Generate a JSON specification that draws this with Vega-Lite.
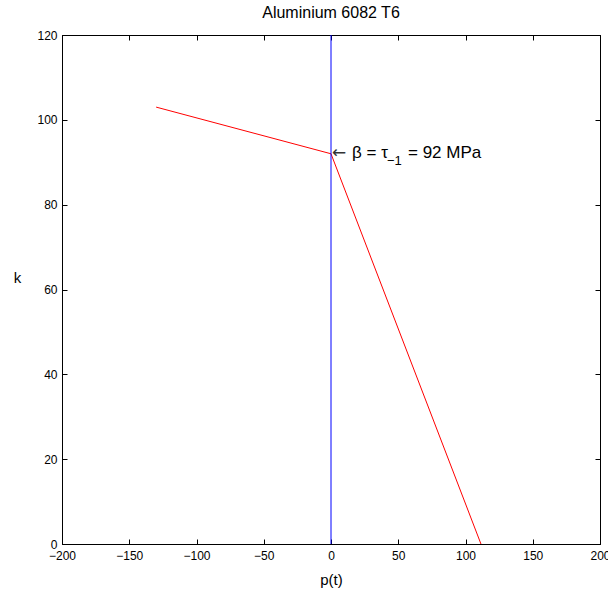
{
  "$schema": "https://vega.github.io/schema/vega-lite/v6.json",
  "autosize": {"type": "none"},
  "width": 538,
  "height": 509,
  "padding": {"left": 62, "top": 35, "right": 8, "bottom": 56},
  "background": "white",
  "title": {"text": "Aluminium 6082 T6", "fontSize": 16, "font": "Liberation Sans", "fontWeight": "normal", "color": "black", "offset": 8, "anchor": "middle"},
  "config": {
    "view": {"stroke": "black", "strokeWidth": 1},
    "font": "Liberation Sans",
    "axis": {"grid": false, "domainColor": "black", "tickColor": "black", "labelColor": "black", "titleColor": "black", "labelFont": "Liberation Sans", "titleFont": "Liberation Sans", "labelFontSize": 12, "titleFontSize": 15, "titleFontWeight": "normal", "domainWidth": 1, "tickWidth": 1, "tickSize": -5, "zindex": 1}
  },
  "resolve": {"axis": {"x": "independent", "y": "independent"}},
  "layer": [
    {
      "data": {"values": [
        {"p": -130, "k": 103},
        {"p": 0, "k": 92},
        {"p": 111.5, "k": 0}
      ]},
      "mark": {"type": "line", "color": "#ff0000", "strokeWidth": 1},
      "encoding": {
        "x": {"field": "p", "type": "quantitative", "scale": {"domain": [-200, 200], "nice": false, "zero": false},
          "axis": {"orient": "bottom", "values": [-200, -150, -100, -50, 0, 50, 100, 150, 200], "title": "p(t)", "labelPadding": 11, "titleY": 40, "titleBaseline": "alphabetic", "labelFlush": false, "labelOverlap": false}},
        "y": {"field": "k", "type": "quantitative", "scale": {"domain": [0, 120], "nice": false, "zero": false},
          "axis": {"orient": "left", "values": [0, 20, 40, 60, 80, 100, 120], "title": "k", "titleAngle": 0, "titleX": -45, "titleY": 250, "titleAlign": "center", "labelPadding": 10, "labelFlush": false, "labelOverlap": false}}
      }
    },
    {
      "data": {"values": [{"p": 0, "k0": 0, "k1": 120}]},
      "mark": {"type": "rule", "color": "#0000ff", "strokeWidth": 1},
      "encoding": {
        "x": {"field": "p", "type": "quantitative", "axis": {"orient": "top", "values": [-200, -150, -100, -50, 0, 50, 100, 150, 200], "labels": false, "title": null}},
        "y": {"field": "k0", "type": "quantitative", "axis": {"orient": "right", "values": [0, 20, 40, 60, 80, 100, 120], "labels": false, "title": null}},
        "y2": {"field": "k1"}
      }
    },
    {
      "data": {"values": [{"p": 0, "k": 92, "label": "←"}]},
      "mark": {"type": "text", "align": "left", "baseline": "alphabetic", "dx": 1, "dy": 4, "fontSize": 17, "font": "DejaVu Sans", "color": "#333333"},
      "encoding": {
        "x": {"field": "p", "type": "quantitative", "axis": null},
        "y": {"field": "k", "type": "quantitative", "axis": null},
        "text": {"field": "label"}
      }
    },
    {
      "data": {"values": [{"p": 0, "k": 92, "label": "β = τ"}]},
      "mark": {"type": "text", "align": "left", "baseline": "alphabetic", "dx": 21, "dy": 4, "fontSize": 17, "font": "Liberation Sans", "color": "black"},
      "encoding": {
        "x": {"field": "p", "type": "quantitative", "axis": null},
        "y": {"field": "k", "type": "quantitative", "axis": null},
        "text": {"field": "label"}
      }
    },
    {
      "data": {"values": [{"p": 0, "k": 92, "label": "−1"}]},
      "mark": {"type": "text", "align": "left", "baseline": "alphabetic", "dx": 56, "dy": 11, "fontSize": 13, "font": "Liberation Sans", "color": "black"},
      "encoding": {
        "x": {"field": "p", "type": "quantitative", "axis": null},
        "y": {"field": "k", "type": "quantitative", "axis": null},
        "text": {"field": "label"}
      }
    },
    {
      "data": {"values": [{"p": 0, "k": 92, "label": "= 92 MPa"}]},
      "mark": {"type": "text", "align": "left", "baseline": "alphabetic", "dx": 77, "dy": 4, "fontSize": 17, "font": "Liberation Sans", "color": "black"},
      "encoding": {
        "x": {"field": "p", "type": "quantitative", "axis": null},
        "y": {"field": "k", "type": "quantitative", "axis": null},
        "text": {"field": "label"}
      }
    }
  ]
}
